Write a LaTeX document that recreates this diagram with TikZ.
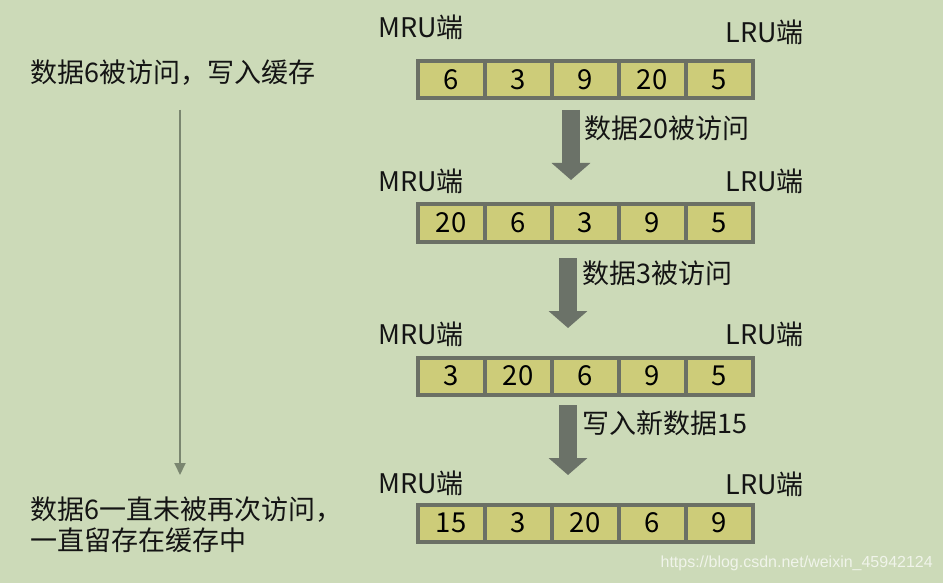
\documentclass[tikz,border=0pt]{standalone}
\usepackage{fontspec}
\newfontfamily\cjk{Noto Sans CJK SC}
\newfontfamily\wmfont{Liberation Sans}
\usetikzlibrary{arrows.meta,positioning}

\definecolor{fondvert}{RGB}{204,218,184}
\definecolor{casejaune}{RGB}{205,204,121}
\definecolor{cadre}{RGB}{107,112,101}
\definecolor{fleche}{RGB}{107,114,104}
\definecolor{flechefine}{RGB}{122,134,112}

\begin{document}
\begin{tikzpicture}[
    x=1pt, y=-1pt,
    font=\cjk\fontsize{27}{31}\selectfont,
    cell/.style={draw=cadre, fill=casejaune, line width=4pt, minimum width=67pt, minimum height=37pt, inner sep=0pt, outer sep=0pt, text=black, font=\cjk\fontsize{27.5}{31}\selectfont},
    endlabel/.style={inner sep=0pt, text=black!92},
    steplabel/.style={inner sep=0pt, anchor=west, text=black!92},
    bigarrow/.style={draw=fleche, line width=18pt, -{Triangle[width=38pt,length=17pt]}},
    thinarrow/.style={draw=flechefine, line width=2pt, -{Triangle[width=11pt,length=12pt]}}
]

    % Fond
    \fill[fondvert] (0,0) rectangle (943,583);
    \useasboundingbox (0,0) rectangle (943,583);

    % Colonne gauche : chronologie
    \node[endlabel, anchor=west] (debut) at (30,73) {数据6被访问，写入缓存};
    \node[endlabel, anchor=west, align=left] (fin) at (30,525) {数据6一直未被再次访问，\\一直留存在缓存中};
    \coordinate (tdebut) at (180,110);
    \coordinate (tfin) at (180,475);
    \draw[thinarrow] (tdebut) -- (tfin);

    % Ligne 1
    \node[endlabel, anchor=west] (mru1) at (378,27) {MRU端};
    \node[endlabel, anchor=east] (lru1) at (804,32) {LRU端};
    \foreach \v [count=\i] in {6,3,9,20,5}
        \node[cell] (r1c\i) at ({384+67*\i},80) {\v};

    % Ligne 2
    \node[endlabel, anchor=west] (mru2) at (378,181) {MRU端};
    \node[endlabel, anchor=east] (lru2) at (804,181) {LRU端};
    \foreach \v [count=\i] in {20,6,3,9,5}
        \node[cell] (r2c\i) at ({384+67*\i},223) {\v};

    % Ligne 3
    \node[endlabel, anchor=west] (mru3) at (378,334) {MRU端};
    \node[endlabel, anchor=east] (lru3) at (804,334) {LRU端};
    \foreach \v [count=\i] in {3,20,6,9,5}
        \node[cell] (r3c\i) at ({384+67*\i},376) {\v};

    % Ligne 4
    \node[endlabel, anchor=west] (mru4) at (378,483) {MRU端};
    \node[endlabel, anchor=east] (lru4) at (804,484) {LRU端};
    \foreach \v [count=\i] in {15,3,20,6,9}
        \node[cell] (r4c\i) at ({384+67*\i},523) {\v};

    % Flèches entre les lignes
    \coordinate (f1a) at (571,110);
    \coordinate (f1b) at (571,180);
    \draw[bigarrow] (f1a) -- (f1b);
    \node[steplabel] (e1) at (584,128) {数据20被访问};

    \coordinate (f2a) at (568,258);
    \coordinate (f2b) at (568,328);
    \draw[bigarrow] (f2a) -- (f2b);
    \node[steplabel] (e2) at (582,273) {数据3被访问};

    \coordinate (f3a) at (568,405);
    \coordinate (f3b) at (568,475);
    \draw[bigarrow] (f3a) -- (f3b);
    \node[steplabel] (e3) at (582,423) {写入新数据15};

    % Filigrane
    \node[inner sep=0pt, anchor=east, font=\wmfont\fontsize{16}{18}\selectfont, text=white!70!fondvert] (wm) at (933,563) {https://blog.csdn.net/weixin\_45942124};

\end{tikzpicture}
\end{document}
